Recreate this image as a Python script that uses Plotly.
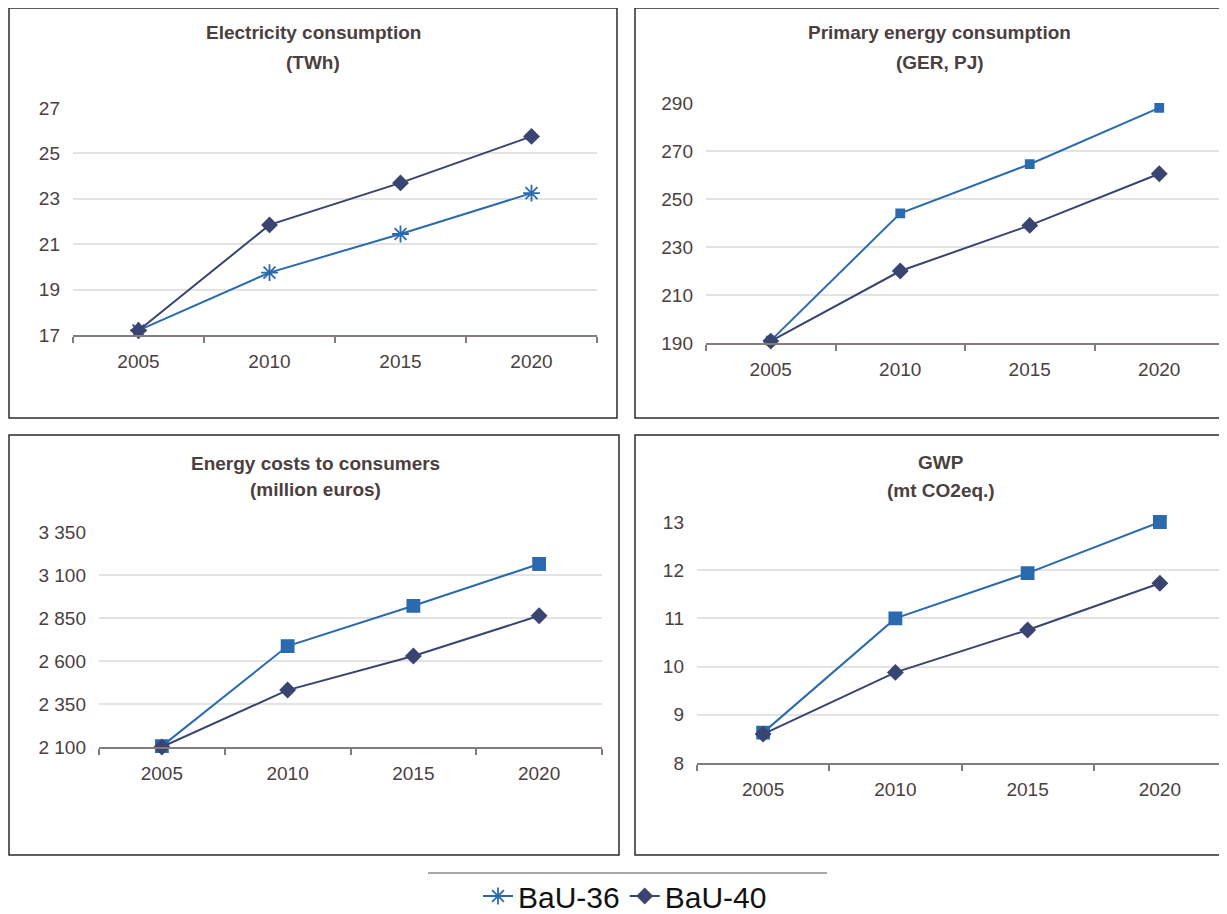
import plotly.graph_objects as go

years = ["2005", "2010", "2015", "2020"]
series_names = ["BaU-36", "BaU-40"]

elec_bau36 = [17.2, 19.75, 21.45, 23.25]
elec_bau40 = [17.2, 21.85, 23.7, 25.75]
prim_bau36 = [191, 244, 264.5, 288]
prim_bau40 = [190.8, 220, 239, 260.5]
cost_bau36 = [2105, 2687, 2921, 3164]
cost_bau40 = [2100, 2431, 2629, 2863]
gwp_bau36 = [8.63, 11.0, 11.94, 13.0]
gwp_bau40 = [8.6, 9.88, 10.76, 11.73]

titles = [
    ("Electricity consumption", "(TWh)"),
    ("Primary energy consumption", "(GER, PJ)"),
    ("Energy costs to consumers", "(million euros)"),
    ("GWP", "(mt CO2eq.)"),
]

W, H = 1227, 940
OFF = 8  # page body margin in the browser
BLUE = "#2a6aaf"
NAVY = "#394470"
TXT = "#4b4040"
GRID = "#e3e3e3"
AXL = "#867b7b"
FONT = "Liberation Sans"


def px(x):
    return (x - OFF) / W


def py(y):
    return 1 - (y - OFF) / H


panels = [
    dict(data=(elec_bau36, elec_bau40), xd=(73, 597), yd=(108, 335), rng=(17, 27), dt=2,
         sym36="asterisk-open", s36=14, box=(9, 8, 617, 418), tx=313, ty=(33, 62)),
    dict(data=(prim_bau36, prim_bau40), xd=(706, 1224), yd=(103, 343), rng=(190, 290), dt=20,
         sym36="square", s36=8, box=(635, 8, 1250, 418), tx=940, ty=(33, 62)),
    dict(data=(cost_bau36, cost_bau40), xd=(99, 602), yd=(532, 747), rng=(2100, 3350), dt=250,
         sym36="square", s36=12, box=(9, 435, 619, 855), tx=315, ty=(463, 489)),
    dict(data=(gwp_bau36, gwp_bau40), xd=(697, 1226), yd=(522, 763), rng=(8, 13), dt=1,
         sym36="square", s36=12, box=(635, 435, 1250, 855), tx=941, ty=(462, 490)),
]

fig = go.Figure()
shapes = []
annotations = []

for i, p in enumerate(panels):
    n = "" if i == 0 else str(i + 1)
    xa, ya = "x" + n, "y" + n
    v36, v40 = p["data"]
    fig.add_trace(go.Scatter(
        x=years, y=v36, name=series_names[0], xaxis=xa, yaxis=ya,
        mode="lines+markers", line=dict(color=BLUE, width=2),
        marker=dict(symbol=p["sym36"], size=p["s36"], color=BLUE,
                    line=dict(color=BLUE, width=1.8)),
        showlegend=(i == 0), legendrank=1, cliponaxis=False))
    fig.add_trace(go.Scatter(
        x=years, y=v40, name=series_names[1], xaxis=xa, yaxis=ya,
        mode="lines+markers", line=dict(color=NAVY, width=2),
        marker=dict(symbol="diamond", size=13, color=NAVY),
        showlegend=(i == 0), legendrank=2, cliponaxis=False))

    fig.update_layout(**{
        "xaxis" + n: dict(
            domain=[px(p["xd"][0]), px(p["xd"][1])], anchor=ya, type="category",
            range=[-0.5, 3.5], showline=True, linecolor=AXL, linewidth=1.5,
            ticks="outside", tickson="boundaries", ticklen=6, tickcolor=AXL, tickwidth=1.5,
            showgrid=False, tickfont=dict(family=FONT, size=19, color=TXT),
            ticklabelstandoff=8, zeroline=False, fixedrange=True, automargin=False),
        "yaxis" + n: dict(
            domain=[py(p["yd"][1]), py(p["yd"][0])], anchor=xa,
            range=list(p["rng"]), dtick=p["dt"], tick0=p["rng"][0],
            showgrid=True, gridcolor=GRID, gridwidth=1.5, showline=False,
            zeroline=False, ticks="", tickformat=",d",
            tickfont=dict(family=FONT, size=19, color=TXT),
            ticklabelstandoff=12, fixedrange=True, automargin=False),
    })

    x0, y0, x1, y1 = p["box"]
    shapes.append(dict(type="rect", xref="paper", yref="paper",
                       x0=px(x0), x1=px(x1), y0=py(y1), y1=py(y0),
                       line=dict(color="#2b2b2b", width=1.5), fillcolor="rgba(0,0,0,0)"))
    for line_text, yy in zip(titles[i], p["ty"]):
        annotations.append(dict(
            text="<b>" + line_text + "</b>", xref="paper", yref="paper",
            x=px(p["tx"]), y=py(yy), xanchor="center", yanchor="middle",
            showarrow=False, font=dict(family=FONT, size=19, color=TXT)))

shapes.append(dict(type="line", xref="paper", yref="paper",
                   x0=px(428), x1=px(827), y0=py(873), y1=py(873),
                   line=dict(color="#555555", width=1.2)))

fig.update_layout(
    width=W, height=H, margin=dict(l=0, r=0, t=0, b=0, autoexpand=False),
    paper_bgcolor="white", plot_bgcolor="white",
    separators=". ",
    shapes=shapes, annotations=annotations,
    legend=dict(orientation="h", x=px(625), xanchor="center", y=py(896),
                yanchor="middle", font=dict(family=FONT, size=30, color="#111111"),
                bgcolor="rgba(0,0,0,0)", itemwidth=30, traceorder="normal"),
    showlegend=True,
)

fig.write_html("out.html")
